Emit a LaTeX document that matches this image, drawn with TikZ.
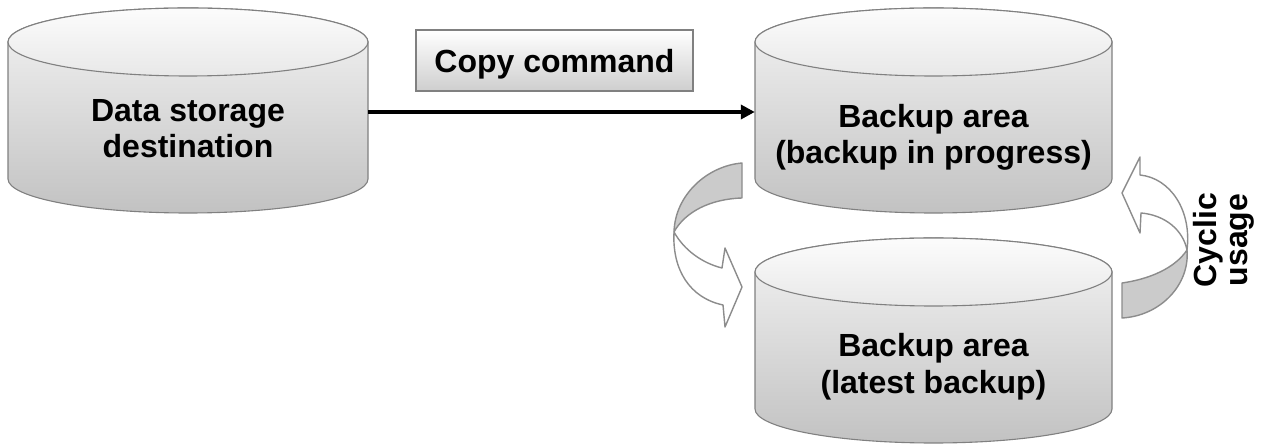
\documentclass[tikz,border=0pt]{standalone}
\usepackage{fontspec}
\setmainfont{Liberation Sans}
\usetikzlibrary{arrows.meta}
\definecolor{edge}{HTML}{808080}
\definecolor{arrowedge}{HTML}{8C8C8C}
\definecolor{bandgray}{HTML}{CBCBCB}
\definecolor{bodytop}{HTML}{F4F4F4}
\definecolor{bodybot}{HTML}{C2C2C2}
\definecolor{captop}{HTML}{FCFCFC}
\definecolor{capbot}{HTML}{E8E8E8}
\newcommand{\mycyl}[5]{% cx, Ytop-center, Ybot-center, rx, ry
  \draw[cylbody] (#1-#4,#2) -- (#1-#4,#3) arc[start angle=180,end angle=360,x radius=#4,y radius=#5] -- (#1+#4,#2) arc[start angle=0,end angle=180,x radius=#4,y radius=#5] -- cycle;
  \draw[cylcap] (#1,#2) ellipse[x radius=#4,y radius=#5];
}
\begin{document}
\begin{tikzpicture}[x=1pt,y=1pt,
  cylbody/.style={draw=edge,line width=1.1pt,top color=bodytop,bottom color=bodybot},
  cylcap/.style={draw=edge,line width=1.1pt,top color=captop,bottom color=capbot},
  anchorbox/.style={draw=none,rectangle,inner sep=0pt},
  lbl/.style={font=\fontsize{32}{36.5}\selectfont\bfseries,align=center,inner sep=0pt,text=black},
  cmdbox/.style={draw=edge,line width=1.1pt,top color=white,bottom color=bodybot!80!white,minimum width=277pt,minimum height=61pt,inner sep=0pt},
  bigarrow/.style={line width=4pt,-{Triangle[length=14pt,width=14pt]}},
  band/.style={draw=arrowedge,line width=1.4pt,line join=round}
]
\useasboundingbox (0,0) rectangle (1266,444);
% cylinders
\mycyl{188}{402}{265}{180}{34}
\mycyl{933.5}{402}{265}{178.5}{34}
\mycyl{933.5}{172}{35}{178.5}{34}
\node[anchorbox,minimum width=360pt,minimum height=200pt] (c1) at (188,332) {};
\node[anchorbox,minimum width=357pt,minimum height=200pt] (c2) at (933.5,332) {};
\node[anchorbox,minimum width=357pt,minimum height=200pt] (c3) at (933.5,104) {};
\node[lbl] (t1) at (188,315.5) {Data storage\\destination};
\node[lbl] (t2) at (933.5,306.5) {Backup area\\(backup in progress)};
\node[lbl] (t3) at (933.5,77.3) {Backup area\\(latest backup)};
% copy command
\node[cmdbox] (cmd) at (554.5,383.5) {};
\node[lbl,anchor=base] (cmdtext) at (554.5,371) {Copy command};
\draw[bigarrow] (c1.east) -- (c2.west);
% left curved arrow
\fill[bandgray] (742,281) .. controls (707,278) and (675,249) .. (674,212) .. controls (685,232) and (710,245) .. (742,246) -- cycle;
\draw[band] (742,281) .. controls (707,278) and (675,249) .. (674,212) .. controls (685,232) and (710,245) .. (742,246) -- cycle;
\draw[band,fill=white] (674,212) .. controls (684,194) and (702,181) .. (722,176) -- (725,196) -- (742,157) -- (725,117) -- (723,139) .. controls (690,146) and (672,174) .. (674,212) -- cycle;
% right curved arrow
\draw[band,fill=bandgray] (1122,161) .. controls (1150,165) and (1175,176) .. (1187,194) .. controls (1190,159) and (1160,128) .. (1122,126) -- cycle;
\draw[band,fill=white] (1187,194) .. controls (1192,234) and (1170,266) .. (1140,269) -- (1140,287) -- (1122,251) -- (1140,211) -- (1141,231) .. controls (1165,229) and (1183,214) .. (1187,194) -- cycle;
\node[lbl,font=\fontsize{32}{31}\selectfont\bfseries,rotate=90] (cyc) at (1223.5,204) {Cyclic\\usage};
\end{tikzpicture}
\end{document}
